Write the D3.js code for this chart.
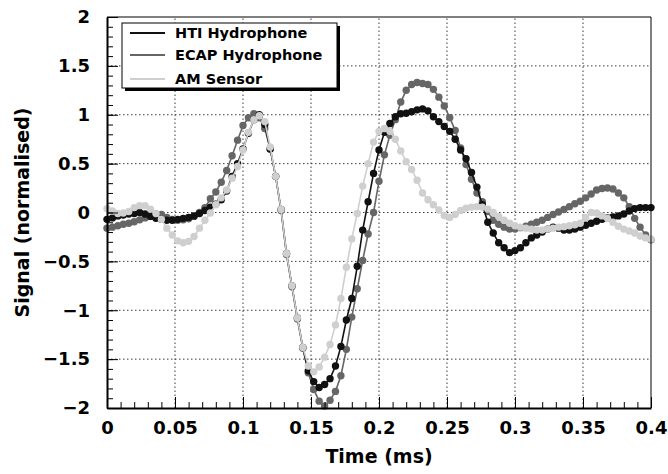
<!DOCTYPE html>
<html>
<head>
<meta charset="utf-8">
<script src="https://cdn.jsdelivr.net/npm/d3@7"></script>
<style>
body{margin:0;background:#fff;}
svg{display:block;}
</style>
</head>
<body>
<script>
// sample times (ms)
const timeMs = [
  0,0.004,0.008,0.012,0.016,0.02,0.024,0.028,0.032,0.036,
  0.04,0.044,0.048,0.052,0.056,0.06,0.064,0.068,0.072,0.076,
  0.08,0.084,0.088,0.092,0.096,0.1,0.104,0.108,0.112,0.116,
  0.12,0.124,0.128,0.132,0.136,0.14,0.144,0.148,0.152,0.156,
  0.16,0.164,0.168,0.172,0.176,0.18,0.184,0.188,0.192,0.196,
  0.2,0.204,0.208,0.212,0.216,0.22,0.224,0.228,0.232,0.236,
  0.24,0.244,0.248,0.252,0.256,0.26,0.264,0.268,0.272,0.276,
  0.28,0.284,0.288,0.292,0.296,0.3,0.304,0.308,0.312,0.316,
  0.32,0.324,0.328,0.332,0.336,0.34,0.344,0.348,0.352,0.356,
  0.36,0.364,0.368,0.372,0.376,0.38,0.384,0.388,0.392,0.396,
  0.4
];

const htiHydrophone = [
  -0.07,-0.055,-0.035,-0.025,-0.015,-0.01,0.0,-0.015,-0.04,-0.06,
  -0.07,-0.08,-0.08,-0.07,-0.06,-0.05,-0.035,-0.01,0.02,0.055,
  0.085,0.13,0.22,0.37,0.5,0.65,0.81,0.95,1.0,0.9,
  0.65,0.37,0.03,-0.42,-0.75,-1.08,-1.38,-1.62,-1.73,-1.79,
  -1.76,-1.7,-1.57,-1.37,-1.1,-0.88,-0.55,-0.18,0.11,0.4,
  0.64,0.82,0.91,0.98,1.01,1.015,1.03,1.05,1.06,1.04,
  0.98,0.93,0.88,0.83,0.75,0.64,0.55,0.41,0.26,0.08,
  -0.1,-0.21,-0.31,-0.36,-0.41,-0.39,-0.36,-0.31,-0.26,-0.23,
  -0.2,-0.17,-0.15,-0.16,-0.18,-0.18,-0.17,-0.15,-0.13,-0.11,
  -0.09,-0.07,-0.055,-0.045,-0.035,-0.015,0.015,0.04,0.05,0.05,
  0.05
];

const ecapHydrophone = [
  -0.16,-0.15,-0.135,-0.12,-0.11,-0.095,-0.075,-0.055,-0.035,-0.015,
  -0.02,-0.05,-0.07,-0.08,-0.075,-0.065,-0.04,0.0,0.05,0.14,
  0.21,0.31,0.43,0.58,0.74,0.89,0.97,1.01,0.97,0.86,
  0.65,0.37,0.02,-0.43,-0.76,-1.09,-1.39,-1.64,-1.81,-1.93,
  -1.98,-1.92,-1.83,-1.67,-1.4,-1.07,-0.78,-0.49,-0.22,0.0,
  0.32,0.59,0.79,0.95,1.13,1.25,1.31,1.33,1.32,1.31,
  1.26,1.18,1.09,0.97,0.84,0.66,0.49,0.34,0.2,0.11,
  0.01,-0.08,-0.12,-0.15,-0.17,-0.17,-0.155,-0.14,-0.12,-0.1,
  -0.08,-0.05,-0.02,0.005,0.03,0.06,0.09,0.115,0.15,0.19,
  0.23,0.245,0.25,0.24,0.2,0.15,0.06,-0.06,-0.15,-0.23,
  -0.28
];

const amSensor = [
  0.04,0.015,-0.01,-0.005,0.01,0.05,0.07,0.07,0.035,-0.01,
  -0.07,-0.16,-0.23,-0.29,-0.31,-0.295,-0.245,-0.16,-0.08,-0.005,
  0.08,0.15,0.23,0.35,0.47,0.64,0.82,0.95,0.99,0.93,
  0.67,0.37,0.03,-0.42,-0.75,-1.08,-1.38,-1.57,-1.63,-1.58,
  -1.48,-1.35,-1.15,-0.88,-0.56,-0.27,-0.01,0.27,0.5,0.72,
  0.83,0.86,0.83,0.75,0.63,0.52,0.44,0.33,0.2,0.13,
  0.08,0.025,-0.03,-0.05,-0.02,0.02,0.045,0.055,0.06,0.055,
  0.035,0.0,-0.04,-0.08,-0.11,-0.135,-0.15,-0.16,-0.17,-0.18,
  -0.18,-0.17,-0.16,-0.15,-0.145,-0.135,-0.125,-0.11,-0.05,0.0,
  -0.005,-0.035,-0.06,-0.1,-0.14,-0.17,-0.19,-0.21,-0.24,-0.26,
  -0.27
];

const seriesNames = ["HTI Hydrophone", "ECAP Hydrophone", "AM Sensor"];
const xTicks = [0, 0.05, 0.1, 0.15, 0.2, 0.25, 0.3, 0.35, 0.4];
const yTicks = [-2, -1.5, -1, -0.5, 0, 0.5, 1, 1.5, 2];
const xTitle = "Time (ms)";
const yTitle = "Signal (normalised)";

var width = 668, height = 474;
var margin = {top: 17, right: 17, bottom: 66, left: 107};
var font = "'DejaVu Sans', 'Liberation Sans', Arial, sans-serif";
var colors = ["#111111", "#666666", "#cfcfcf"];

var svg = d3.select("body").append("svg")
    .attr("width", width)
    .attr("height", height)
    .style("font-family", font)
    .style("font-weight", "bold");

var x = d3.scaleLinear().domain([0, 0.4]).range([margin.left, width - margin.right]);
var y = d3.scaleLinear().domain([-2, 2]).range([height - margin.bottom, margin.top]);

// dotted grid
var grid = svg.append("g").attr("stroke", "#3a3a3a").attr("stroke-dasharray", "1.5,2.5");
grid.selectAll(".gx").data(xTicks.slice(1, -1)).join("line")
    .attr("x1", d => x(d)).attr("x2", d => x(d))
    .attr("y1", y(-2)).attr("y2", y(2));
grid.selectAll(".gy").data(yTicks.slice(1, -1)).join("line")
    .attr("x1", x(0)).attr("x2", x(0.4))
    .attr("y1", d => y(d)).attr("y2", d => y(d));

// series: lines + markers (AM drawn last, on top)
var series = [htiHydrophone, ecapHydrophone, amSensor];
var valueline = d3.line()
    .x((d, i) => x(timeMs[i]))
    .y(d => y(d));

[1, 0, 2].forEach(function(k) {
  var g = svg.append("g");
  g.append("path")
      .datum(series[k])
      .attr("d", valueline)
      .attr("fill", "none")
      .attr("stroke", colors[k])
      .attr("stroke-width", 1.6);
  g.selectAll("circle").data(series[k]).join("circle")
      .attr("cx", (d, i) => x(timeMs[i]))
      .attr("cy", d => y(d))
      .attr("r", 3.7)
      .attr("fill", colors[k]);
});

// legend with shadow
var legend = svg.append("g");
legend.append("rect").attr("x", 125).attr("y", 26).attr("width", 215).attr("height", 65).attr("fill", "#000");
legend.append("rect").attr("x", 122).attr("y", 23).attr("width", 215).attr("height", 65)
    .attr("fill", "#fff").attr("stroke", "#000").attr("stroke-width", 1);
var rowY = [33, 55, 79];
seriesNames.forEach(function(name, k) {
  legend.append("line")
      .attr("x1", 130).attr("x2", 165)
      .attr("y1", rowY[k]).attr("y2", rowY[k])
      .attr("stroke", colors[k]).attr("stroke-width", 2);
  legend.append("text")
      .attr("x", 175).attr("y", rowY[k])
      .attr("dy", "0.36em")
      .style("font-size", "14.5px")
      .text(name);
});

// frame top/right
svg.append("line").attr("x1", x(0)).attr("x2", x(0.4)).attr("y1", y(2)).attr("y2", y(2)).attr("stroke", "#000");
svg.append("line").attr("x1", x(0.4)).attr("x2", x(0.4)).attr("y1", y(2)).attr("y2", y(-2)).attr("stroke", "#000");

// minor ticks
svg.append("g").attr("transform", "translate(0," + y(-2) + ")")
    .call(d3.axisBottom(x).tickValues(x.ticks(40)).tickSize(-6).tickFormat(""))
    .call(g => g.select(".domain").remove());
svg.append("g").attr("transform", "translate(" + x(0) + ",0)")
    .call(d3.axisLeft(y).tickValues(y.ticks(40)).tickSize(-6).tickFormat(""))
    .call(g => g.select(".domain").remove());

// major axes
var fmt = d3.format("~g");
var xAxisGroup = svg.append("g").attr("transform", "translate(0," + y(-2) + ")")
    .call(d3.axisBottom(x).tickValues(xTicks).tickSize(-11).tickPadding(13).tickSizeOuter(0).tickFormat(fmt));
var yAxisGroup = svg.append("g").attr("transform", "translate(" + x(0) + ",0)")
    .call(d3.axisLeft(y).tickValues(yTicks).tickSize(-11).tickPadding(17).tickSizeOuter(0).tickFormat(fmt));

[xAxisGroup, yAxisGroup].forEach(function(g) {
  g.attr("font-family", font).attr("font-size", 18).attr("font-weight", "bold");
  g.select(".domain").attr("stroke-width", 2);
  g.selectAll("text").attr("fill", "#000");
});

// axis titles
svg.append("text")
    .attr("x", (x(0) + x(0.4)) / 2)
    .attr("y", 463)
    .attr("text-anchor", "middle")
    .style("font-size", "19px")
    .text(xTitle);
svg.append("text")
    .attr("transform", "translate(29," + (y(-2) + y(2)) / 2 + ") rotate(-90)")
    .attr("text-anchor", "middle")
    .style("font-size", "19px")
    .text(yTitle);
</script>
</body>
</html>
